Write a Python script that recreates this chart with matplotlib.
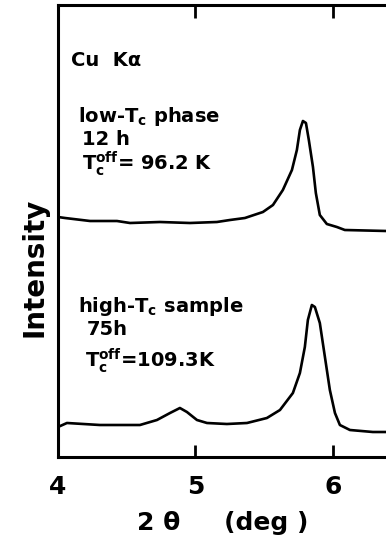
import matplotlib
matplotlib.use('Agg')
import numpy as np
from matplotlib import pyplot as plt

plt.rcParams['font.family'] = ['DejaVu Sans']
plt.rcParams['font.weight'] = 'bold'
plt.rcParams['mathtext.default'] = 'bf'

# 2theta (deg) and intensity (arb. units)
x_low = [4.0, 4.0, 4.051, 4.233, 4.429, 4.524, 4.742, 4.96, 5.156, 5.251, 5.36, 5.491, 5.564, 5.636,
         5.702, 5.738, 5.76, 5.782, 5.804, 5.825, 5.855, 5.876, 5.905, 5.956, 6.029, 6.087, 6.39]
y_low = [220, 240, 239, 236, 236, 234, 235, 234, 235, 237, 239, 245, 252, 267,
         287, 307, 327, 336, 334, 317, 290, 264, 242, 233, 230, 227, 226]

x_high = [4.0, 4.0, 4.065, 4.305, 4.545, 4.596, 4.72, 4.815, 4.887, 4.938, 5.011, 5.084, 5.229, 5.375,
          5.52, 5.615, 5.709, 5.76, 5.796, 5.818, 5.847, 5.869, 5.905, 5.942, 5.978, 6.015, 6.051,
          6.124, 6.291, 6.39]
y_high = [7, 30, 34, 32, 32, 32, 37, 44, 49, 45, 37, 34, 33, 34,
          39, 47, 64, 84, 110, 137, 152, 150, 134, 100, 67, 44, 32,
          27, 25, 25]

fig = plt.figure(figsize=(3.86, 5.46), dpi=100)
ax = fig.add_axes([58/386, 1 - 457/546, 1 - 58/386 + 0.01, 452/546])

ax.plot(x_low, y_low, color='black', lw=1.9, solid_joinstyle='round')
ax.plot(x_high, y_high, color='black', lw=1.9, solid_joinstyle='round')

ax.set_xlim(4, 4 + (386 - 58 + 4) / 137.5)
ax.set_ylim(0, 452)

for s in ['left', 'bottom', 'top']:
    ax.spines[s].set_linewidth(2.2)
ax.spines['right'].set_visible(False)

ax.set_xticks([4, 5, 6])
ax.set_xticklabels(['4', '5', '6'], fontweight='bold')
ax.tick_params(axis='x', direction='in', top=True, length=9, width=2, labelsize=18, pad=13)
ax.set_yticks([])
ax.set_xlabel('2 \u03b8     (deg )', fontsize=18, fontweight='bold')
ax.xaxis.set_label_coords(0.497, -0.119)
ax.set_ylabel('Intensity', fontsize=20, fontweight='bold')
ax.yaxis.set_label_coords(-0.03, 0.42)

fs = 14
ax.text(4.095, 396, 'Cu  K\u03b1', fontsize=fs, va='center')
ax.text(4.145, 335, r'low-T$_c$ phase', fontsize=fs, va='baseline')
ax.text(4.175, 312, '12 h', fontsize=fs, va='baseline')
ax.text(4.175, 287, r'T$_c^{off}$= 96.2 K', fontsize=fs, va='baseline')

ax.text(4.145, 145, r'high-T$_c$ sample', fontsize=fs, va='baseline')
ax.text(4.21, 122, '75h', fontsize=fs, va='baseline')
ax.text(4.196, 90, r'T$_c^{off}$=109.3K', fontsize=fs, va='baseline')

fig.savefig('out.png', dpi=100)
